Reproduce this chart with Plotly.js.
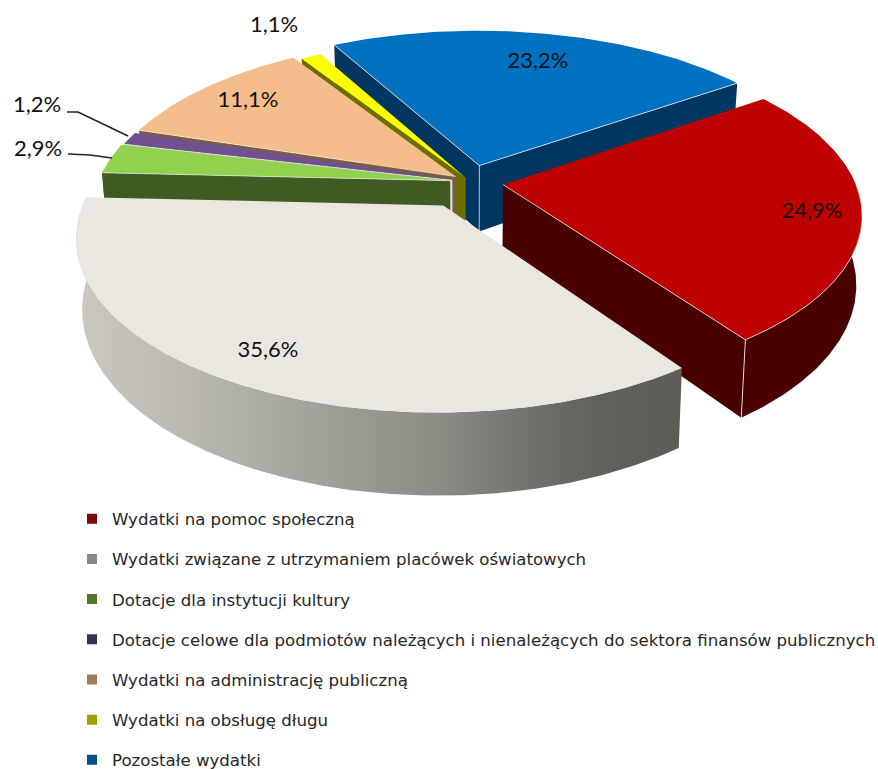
<!DOCTYPE html>
<html><head><meta charset="utf-8">
<script src="https://cdn.plot.ly/plotly-3.0.1.min.js"></script>
<style>html,body{margin:0;padding:0;background:#fff}</style></head>
<body><div id="chart" style="width:878px;height:769px"></div>
<script>
// ---- data (clockwise from the red slice)
const categories = [
  "Wydatki na pomoc społeczną",
  "Wydatki związane z utrzymaniem placówek oświatowych",
  "Dotacje dla instytucji kultury",
  "Dotacje celowe dla podmiotów należących i nienależących do sektora finansów publicznych",
  "Wydatki na administrację publiczną",
  "Wydatki na obsługę długu",
  "Pozostałe wydatki"
];
const values = [24.9, 35.6, 2.9, 1.2, 11.1, 1.1, 23.2];

// ---- styling
const topColors  = ["#bf0000","#e9e7df","#92d050","#6f5191","#f6bd8c","#ffff00","#0070c0"];
const wallColors = ["#480000","#8f8e87","#3f5a22","#d8d8d8","#7a5c46","#6e6e00","#003660"];
const keyColors  = ["#7a0a0a","#8a8a85","#4f7a2a","#3f3057","#a07a5a","#a0a000","#0b4f8a"];
const explode    = [0.092,0.16,0.06,0.055,0.055,0.03,0.105];
const drawOrder  = [6,5,4,3,2,0,1];
const labelPos   = [[812,212],[268,351],[38,150],[37,106],[248,101],[274,26],[538,62]];
const leaders    = [{i:2,x:[68,90,112],y:[154,155,158]},{i:3,x:[67,78,128],y:[112,112,136]}];

// ---- oblique projection of the pie
const cx=471, cy=182, A=352, B=163, persp=0.17, depth=67, startDeg=55;
function proj(X,Y,z){
  const w=1+persp*Y, s=1-0.015*z;
  return [cx+A*X/w*s, cy-B*Y/w+depth*z/w];
}
const total=values.reduce((a,b)=>a+b,0);
const rad=d=>d*Math.PI/180;
const traces=[];
function poly(pts,color,grad){
  const t={x:pts.map(p=>p[0]),y:pts.map(p=>p[1]),mode:'lines',fill:'toself',fillcolor:color,
    line:{width:0,color:color},hoverinfo:'skip',showlegend:false,xaxis:'x',yaxis:'y'};
  if(grad){t.fillgradient={type:'horizontal',colorscale:grad};delete t.fillcolor;}
  traces.push(t);
}
function hl(pts,op){
  traces.push({x:pts.map(p=>p[0]),y:pts.map(p=>p[1]),mode:'lines',
    line:{width:1,color:'rgba(255,255,255,'+op+')'},hoverinfo:'skip',showlegend:false});
}
let acc=startDeg; const spans=values.map(v=>{const s=acc;acc+=v/total*360;return [s,acc];});
const grayGrad=[[0,'#cbc9bf'],[0.3,'#aeada5'],[0.6,'#8b8a83'],[0.85,'#62615b'],[1,'#5c5b55']];
drawOrder.forEach(i=>{
  const [a0,a1]=spans[i], m=rad((a0+a1)/2), e=explode[i];
  const ox=e*Math.sin(m), oy=e*Math.cos(m);
  const rim=(d,z)=>proj(ox+Math.sin(rad(d)),oy+Math.cos(rad(d)),z);
  const n=Math.max(3,Math.round((a1-a0)*2));
  const ds=[];for(let k=0;k<=n;k++)ds.push(a0+(a1-a0)*k/n);
  const apexT=proj(ox,oy,0), apexB=proj(ox,oy,1);
  // radial walls facing the viewer
  const r0=rim(a0,0), r1=rim(a1,0);
  if(r0[0]<apexT[0]) poly([apexT,r0,rim(a0,1),apexB,apexT],wallColors[i]);
  if(r1[0]>apexT[0]) poly([apexT,r1,rim(a1,1),apexB,apexT],wallColors[i]);
  // curved wall facing the viewer
  const vis=ds.filter(d=>{const c=((d%360)+360)%360;return c>=90&&c<=270+4;});
  if(vis.length>1){
    const p=vis.map(d=>rim(d,0)).concat(vis.slice().reverse().map(d=>rim(d,1)));
    p.push(p[0]);
    poly(p,wallColors[i],i===1?grayGrad:null);
  }
  // top face
  const top=[apexT].concat(ds.map(d=>rim(d,0)));top.push(apexT);
  poly(top,topColors[i]);
  // fine highlights on front edges
  if(i===0){hl([apexT,r1].concat(vis.slice().reverse().map(d=>rim(d,0))),0.7);hl([r1,rim(a1,1)],0.8);}
  if(i===6){hl([r0,apexT,r1],0.7);hl([apexT,apexB],0.6);}
  if(i===4||i===2){hl([apexT,r0],0.55);}
});
// leader lines
leaders.forEach(l=>traces.push({x:l.x,y:l.y,mode:'lines',line:{color:'#222',width:1.6},hoverinfo:'skip',showlegend:false}));
// value labels
traces.push({x:labelPos.map(p=>p[0]),y:labelPos.map(p=>p[1]),mode:'text',
  text:values.map(v=>v.toFixed(1).replace('.',',')+'%'),textposition:'middle center',
  textfont:{family:'Lato, Open Sans, sans-serif',size:22,color:'#111'},hoverinfo:'skip',showlegend:false});
// legend keys
categories.forEach((c,i)=>traces.push({x:[null],y:[null],mode:'markers',name:c,legendgroup:'g'+i,
  marker:{symbol:'square',size:10,color:keyColors[i]}}));

Plotly.newPlot('chart',traces,{
  width:878,height:769,margin:{l:0,r:0,t:0,b:0,autoexpand:false},paper_bgcolor:'#fff',plot_bgcolor:'#fff',
  xaxis:{range:[0,878],visible:false,fixedrange:true},
  yaxis:{range:[769,0],visible:false,fixedrange:true},
  showlegend:true,
  legend:{x:0.082,xanchor:'left',y:-0.011,yanchor:'bottom',tracegroupgap:15.6,itemwidth:30,
    bgcolor:'rgba(0,0,0,0)',font:{family:'DejaVu Sans, sans-serif',size:16.6,color:'#262626'}}
},{staticPlot:true,displayModeBar:false});
</script></body></html>
